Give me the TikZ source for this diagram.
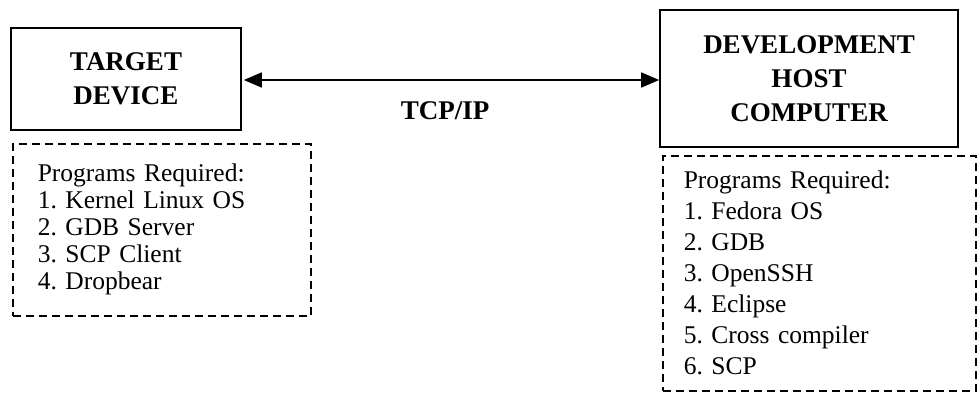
\documentclass[tikz,border=0pt]{standalone}
\usepackage{fontspec}
\setmainfont{Liberation Serif}
\usetikzlibrary{arrows,arrows.meta,positioning,calc}
\frenchspacing

\begin{document}
\begin{tikzpicture}[x=1pt,y=-1pt, line width=1.6pt,
  main box/.style={rectangle,draw,font=\fontsize{27}{34}\selectfont\bfseries,align=center,inner sep=0pt},
  prog box/.style={rectangle,draw,dashed,dash pattern=on 8pt off 5pt,anchor=north west,align=left,inner ysep=0pt,font=\fontsize{25.5}{27}\selectfont}]
\useasboundingbox (0,0) rectangle (977,392);
\begin{scope}
\node[main box,minimum width=230pt,minimum height=102pt] (target) at (126,79) {TARGET\\DEVICE};
\node[main box,minimum width=298pt,minimum height=137pt] (host) at (809,78.5) {DEVELOPMENT\\HOST\\COMPUTER};
\end{scope}
\node[prog box,minimum width=298pt,minimum height=172pt,inner xsep=25pt,text width=248pt] (targetprog) at (12,143)
  {Programs Required:\\1. Kernel Linux OS\\2. GDB Server\\3. SCP Client\\4. Dropbear};
\node[prog box,minimum width=313pt,minimum height=235pt,inner xsep=21pt,text width=271pt,font=\fontsize{25.5}{31}\selectfont] (hostprog) at (662,155)
  {Programs Required:\\1. Fedora OS\\2. GDB\\3. OpenSSH\\4. Eclipse\\5. Cross compiler\\6. SCP};
\draw[{Triangle[length=18pt,width=15pt]}-{Triangle[length=18pt,width=15pt]}] (target.east) ++(2,1) coordinate (a) -- (a -| host.west) coordinate (b);
\node[font=\fontsize{27}{30}\selectfont\bfseries] (tcp) at (445,111) {TCP/IP};
\end{tikzpicture}
\end{document}
